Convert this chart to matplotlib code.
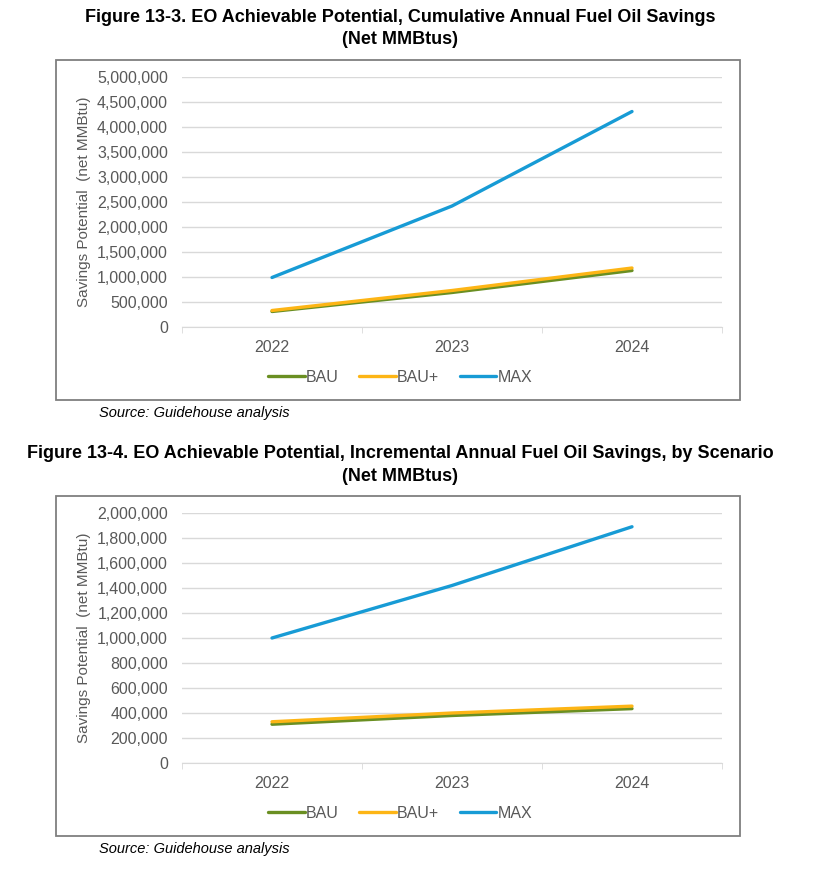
import matplotlib
matplotlib.use("Agg")
import matplotlib.pyplot as plt
from matplotlib.patches import Rectangle
from matplotlib.ticker import FuncFormatter

# Datos
years = ["2022", "2023", "2024"]
series_names = ["BAU", "BAU+", "MAX"]

cum_bau = [310000, 690000, 1130000]
cum_bau_plus = [330000, 730000, 1180000]
cum_max = [990000, 2420000, 4310000]

inc_bau = [310000, 380000, 435000]
inc_bau_plus = [330000, 400000, 455000]
inc_max = [1000000, 1420000, 1890000]

colores = ["#6A8F22", "#FDB515", "#179BD5"]
gris = "#595959"

W, H = 836, 889
fig = plt.figure(figsize=(W / 100, H / 100), dpi=100)
plt.rcParams['font.family'] = ['Liberation Sans', 'DejaVu Sans']


def px_axes(left, top, right, bottom):
    return fig.add_axes([left / W, 1 - bottom / H, (right - left) / W, (bottom - top) / H])


def panel(top_px, title1, title2, datos, ymax, step):
    # Títulos
    fig.text(400 / W, 1 - (top_px - 42) / H, title1, ha="center", va="center",
             fontsize=13, fontweight="bold")
    fig.text(400 / W, 1 - (top_px - 20) / H, title2, ha="center", va="center",
             fontsize=13, fontweight="bold")

    # Marco del gráfico
    fig.patches.append(Rectangle((56 / W, 1 - (top_px + 340) / H), 684 / W, 340 / H,
                                 transform=fig.transFigure, fill=False,
                                 edgecolor="#7F7F7F", linewidth=1.3))

    ax = px_axes(182, top_px + 17, 722, top_px + 267)
    x = range(len(years))
    lineas = []
    for vals, c, nombre in zip(datos, colores, series_names):
        l, = ax.plot(x, vals, color=c, linewidth=2.4, label=nombre, solid_capstyle="round")
        lineas.append(l)

    ax.set_xlim(-0.5, len(years) - 0.5)
    ax.set_ylim(0, ymax)
    ax.set_yticks(range(0, ymax + 1, step))
    ax.yaxis.set_major_formatter(FuncFormatter(lambda v, p: f"{int(v):,}"))
    ax.set_xticks(list(x))
    ax.set_xticklabels(years)
    ax.set_xticks([-0.5, 0.5, 1.5, 2.5], minor=True)
    ax.tick_params(axis="x", which="major", length=0, pad=9, labelsize=11.5, labelcolor=gris)
    ax.tick_params(axis="x", which="minor", length=4, color="#D9D9D9", direction="out")
    ax.tick_params(axis="y", length=0, pad=10, labelsize=11.5, labelcolor=gris)
    ax.grid(axis="y", color="#D9D9D9", linewidth=1)
    ax.set_axisbelow(True)
    for s in ["top", "right", "left"]:
        ax.spines[s].set_visible(False)
    ax.spines["bottom"].set_color("#D9D9D9")
    ax.set_ylabel("Savings Potential  (net MMBtu)", fontsize=11, color=gris)
    ax.yaxis.set_label_coords(-(182 - 91) / 540, 0.5)

    fig.legend(handles=lineas, loc="center", bbox_to_anchor=(400 / W, 1 - (top_px + 317) / H),
               ncol=3, frameon=False, fontsize=11.5, handlelength=2.3, handletextpad=0.05,
               columnspacing=1.3, labelcolor=gris)

    fig.text(99 / W, 1 - (top_px + 353) / H, "Source: Guidehouse analysis", ha="left",
             va="center", fontsize=10.5, style="italic")


panel(60, "Figure 13-3. EO Achievable Potential, Cumulative Annual Fuel Oil Savings",
      "(Net MMBtus)", [cum_bau, cum_bau_plus, cum_max], 5000000, 500000)
panel(496, "Figure 13-4. EO Achievable Potential, Incremental Annual Fuel Oil Savings, by Scenario",
      "(Net MMBtus)", [inc_bau, inc_bau_plus, inc_max], 2000000, 200000)

fig.savefig("out.png", dpi=100)
